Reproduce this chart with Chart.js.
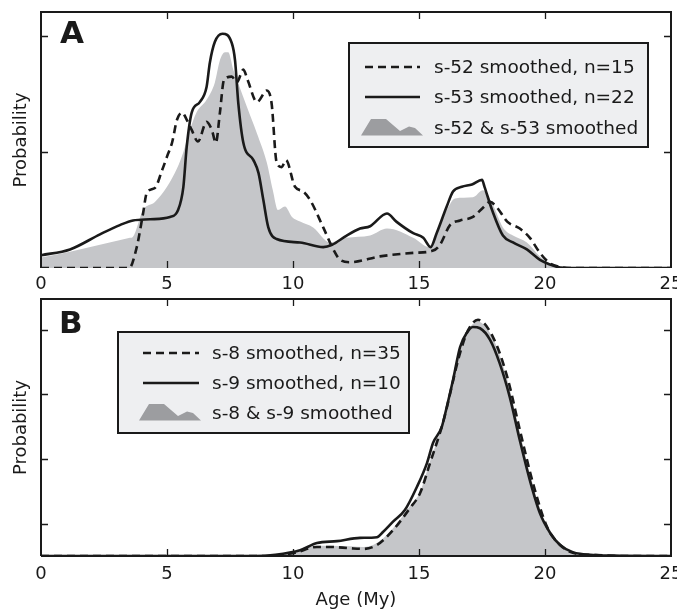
<!DOCTYPE html>
<html><head><meta charset="utf-8">
<script src="https://cdn.jsdelivr.net/npm/chart.js@4.4.1/dist/chart.umd.min.js"></script>
<style>
html,body{margin:0;padding:0;background:#fff;}
#wrap{position:relative;width:677px;height:611px;overflow:hidden;background:#fff;}
canvas{position:absolute;left:0;}
#cA{top:0;}
#cB{top:287px;}
</style></head><body>
<div id="wrap"><canvas id="cA" width="677" height="295"></canvas><canvas id="cB" width="677" height="324"></canvas></div>
<script>
// ---------- data ----------
const xTickValues = [0, 5, 10, 15, 20, 25];
const xInnerTicks = [5, 10, 15, 20];
const aYTicks = [0.1, 0.2];
const bYTicks = [0.05, 0.15, 0.25, 0.35];

const aLabels = ['s-52 smoothed, n=15', 's-53 smoothed, n=22', 's-52 & s-53 smoothed'];
const bLabels = ['s-8 smoothed, n=35', 's-9 smoothed, n=10', 's-8 & s-9 smoothed'];

// Panel A : s-52 (dashed)
const a52X = [0,3.5,3.8,4.05,4.2,4.52,4.8,5.0,5.2,5.4,5.6,5.78,5.98,6.23,6.57,6.78,6.94,7.1,7.26,7.57,7.77,8.03,8.2,8.57,8.96,9.15,9.35,9.55,9.72,10.08,10.4,10.67,11.2,11.6,11.87,12.26,13.45,14.77,15.56,15.83,16.23,16.63,17.14,17.54,17.82,18.1,18.5,19.0,19.4,19.8,20.2,20.6,21,25];
const a52Y = [0,0,0.018,0.047,0.065,0.069,0.084,0.096,0.108,0.128,0.134,0.128,0.119,0.109,0.126,0.119,0.108,0.134,0.162,0.165,0.160,0.171,0.162,0.143,0.153,0.142,0.091,0.087,0.093,0.070,0.066,0.059,0.035,0.016,0.007,0.005,0.010,0.013,0.015,0.020,0.037,0.041,0.044,0.052,0.057,0.052,0.040,0.034,0.026,0.013,0.004,0.001,0,0];
// Panel A : s-53 (solid)
const a53X = [0,1.15,2.34,3.13,3.65,4.33,5.12,5.44,5.65,5.78,5.98,6.3,6.57,6.7,6.9,7.2,7.57,7.7,7.83,8.03,8.43,8.63,8.82,9.02,9.35,10.28,11.2,11.55,12.13,12.66,13.06,13.73,14.1,14.77,15.17,15.46,15.7,16.1,16.35,16.7,17.1,17.5,17.6,17.9,18.33,18.73,19.28,19.8,20.2,20.6,21,25];
const a53Y = [0.011,0.016,0.029,0.037,0.041,0.042,0.044,0.050,0.070,0.104,0.134,0.143,0.156,0.177,0.195,0.202,0.194,0.179,0.142,0.108,0.093,0.082,0.059,0.035,0.025,0.022,0.018,0.020,0.028,0.034,0.036,0.047,0.040,0.030,0.026,0.018,0.030,0.053,0.066,0.070,0.072,0.076,0.070,0.050,0.028,0.022,0.016,0.007,0.003,0.0004,0,0];
// Panel A : combined (gray)
const aAllX = [0,1.15,2.34,3.53,3.65,4.05,4.52,5.0,5.4,5.65,5.85,6.17,6.57,6.9,7.1,7.3,7.43,7.63,7.83,8.17,8.57,8.96,9.2,9.4,9.68,9.96,10.28,10.8,11.47,12.13,13.06,13.73,14.77,15.4,16.1,16.43,17.14,17.54,17.94,18.33,18.73,19.28,19.8,20.3,20.8,25];
const aAllY = [0.009,0.014,0.020,0.026,0.027,0.050,0.057,0.070,0.086,0.100,0.115,0.134,0.145,0.160,0.179,0.186,0.186,0.171,0.159,0.139,0.116,0.091,0.067,0.050,0.053,0.044,0.040,0.035,0.022,0.026,0.028,0.034,0.026,0.018,0.050,0.060,0.061,0.067,0.054,0.035,0.028,0.022,0.010,0.003,0,0];

// Panel B : s-8 (dashed)
const b8X = [0,9,10.08,10.95,11.47,12.26,12.8,13.33,13.97,14.64,15.04,15.44,15.95,16.63,16.95,17.34,17.94,18.5,19.0,19.52,20.08,20.6,21.1,22,23,25];
const b8Y = [0,0,0.005,0.014,0.014,0.012,0.011,0.017,0.040,0.074,0.097,0.144,0.206,0.314,0.349,0.365,0.338,0.277,0.195,0.113,0.045,0.017,0.005,0.0015,0,0];
// Panel B : s-9 (solid)
const b9X = [0,8.5,9.3,10.28,10.95,11.75,12.66,13.33,13.57,13.97,14.44,14.92,15.32,15.56,15.9,16.1,16.35,16.63,16.9,17.14,17.42,17.82,18.2,18.6,19.0,19.4,19.8,20.2,20.6,21.1,22,23,25];
const b9Y = [0,0,0.002,0.009,0.020,0.023,0.028,0.029,0.037,0.053,0.071,0.107,0.144,0.175,0.199,0.230,0.272,0.323,0.345,0.354,0.352,0.334,0.298,0.246,0.179,0.117,0.066,0.036,0.017,0.006,0.0015,0.0005,0];
// Panel B : combined (gray)
const bAllX = [0,9,10.08,10.95,11.47,12.26,12.8,13.33,13.97,14.64,15.04,15.44,15.95,16.63,16.95,17.34,17.94,18.5,19.0,19.52,20.08,20.6,21.1,22,23,25];
const bAllY = [0,0,0.006,0.016,0.016,0.015,0.014,0.020,0.043,0.077,0.099,0.147,0.206,0.316,0.349,0.362,0.336,0.273,0.191,0.110,0.044,0.017,0.005,0.001,0,0];

// ---------- styling ----------
const INK = '#1a1a1a';
const GRAY = '#c5c6c9';
const LEG_BG = '#eeeff1';
const ICON = '#9c9da0';
const DASH = [8, 5];

Chart.defaults.font.family = '"DejaVu Sans", sans-serif';
Chart.defaults.font.size = 18;
Chart.defaults.color = INK;

const pts = (xs, ys) => xs.map((x, i) => ({x: x, y: ys[i]}));

const framePlugin = {
  id: 'frame',
  afterDraw(chart, args, o) {
    const {ctx, chartArea: a, scales} = chart;
    const xs = scales.x, ys = scales.y;
    ctx.save();
    // frame
    ctx.strokeStyle = INK; ctx.lineWidth = 2; ctx.setLineDash([]);
    ctx.beginPath();
    ctx.moveTo(a.left, a.bottom); ctx.lineTo(a.left, a.top); ctx.lineTo(a.right, a.top); ctx.lineTo(a.right, a.bottom);
    if (o.bottom) ctx.lineTo(a.left, a.bottom);
    ctx.stroke();
    // inward ticks
    ctx.lineWidth = 1.3;
    ctx.beginPath();
    const TL = 7;
    for (const v of o.xTicks) {
      const px = Math.round(xs.getPixelForValue(v)) + 0.5;
      ctx.moveTo(px, a.top); ctx.lineTo(px, a.top + TL);
      ctx.moveTo(px, a.bottom); ctx.lineTo(px, a.bottom - TL);
    }
    for (const v of o.yTicks) {
      const py = Math.round(ys.getPixelForValue(v)) + 0.5;
      ctx.moveTo(a.left, py); ctx.lineTo(a.left + TL, py);
      ctx.moveTo(a.right, py); ctx.lineTo(a.right - TL, py);
    }
    ctx.stroke();
    // panel letter
    ctx.fillStyle = INK;
    ctx.font = 'bold 31px "DejaVu Sans", sans-serif';
    ctx.textBaseline = 'alphabetic'; ctx.textAlign = 'left';
    ctx.fillText(o.letter, a.left + o.letterDx, a.top + o.letterDy);
    // legend
    const L = o.legend;
    const lx = a.left + L.dx, ly = a.top + L.dy;
    ctx.fillStyle = LEG_BG; ctx.fillRect(lx, ly, L.w, L.h);
    ctx.lineWidth = 2; ctx.strokeStyle = INK; ctx.strokeRect(lx, ly, L.w, L.h);
    const sx = lx + L.sx0, ex = lx + L.sx1;
    ctx.font = L.font;
    ctx.textBaseline = 'middle';
    L.labels.forEach((t, i) => {
      const yc = ly + L.rows[i];
      if (i < 2) {
        ctx.strokeStyle = INK; ctx.lineWidth = 2.6;
        ctx.setLineDash(i === 0 ? DASH : []);
        ctx.beginPath(); ctx.moveTo(sx, yc); ctx.lineTo(ex, yc); ctx.stroke();
        ctx.setLineDash([]);
      } else {
        ctx.fillStyle = ICON;
        ctx.beginPath();
        ctx.moveTo(sx - 4, yc + 7.5);
        ctx.lineTo(sx + 6, yc - 9);
        ctx.lineTo(sx + 21, yc - 9);
        ctx.lineTo(sx + 35, yc + 3);
        ctx.lineTo(sx + 44, yc - 1.5);
        ctx.lineTo(sx + 50, yc);
        ctx.lineTo(sx + 58, yc + 7.5);
        ctx.closePath(); ctx.fill();
      }
      ctx.fillStyle = INK;
      ctx.fillText(t, lx + L.tx, yc + 1);
    });
    ctx.restore();
  }
};

function makeChart(id, cfg) {
  return new Chart(document.getElementById(id), {
    type: 'line',
    data: {
      datasets: [
        {label: cfg.labels[0], data: pts(cfg.dX, cfg.dY), borderColor: INK, borderWidth: 2.6, borderDash: DASH,
         pointRadius: 0, fill: false, cubicInterpolationMode: 'monotone'},
        {label: cfg.labels[1], data: pts(cfg.sX, cfg.sY), borderColor: INK, borderWidth: 2.6,
         pointRadius: 0, fill: false, cubicInterpolationMode: 'monotone'},
        {label: cfg.labels[2], data: pts(cfg.gX, cfg.gY), borderColor: 'rgba(0,0,0,0)', borderWidth: 0,
         backgroundColor: GRAY, pointRadius: 0, fill: 'origin', cubicInterpolationMode: 'monotone'}
      ]
    },
    options: {
      responsive: false, animation: false, devicePixelRatio: 1,
      layout: {padding: {left: 0, top: 12, right: 6, bottom: 0}},
      plugins: {
        legend: {display: false}, tooltip: {enabled: false},
        frame: cfg.frame
      },
      scales: {
        x: {
          type: 'linear', min: 0, max: 25,
          grid: {display: false, drawTicks: false}, border: {display: false},
          afterBuildTicks: s => { s.ticks = xTickValues.map(v => ({value: v})); },
          ticks: {padding: cfg.tickPad, maxRotation: 0, autoSkip: false, color: INK, font: {size: 18}},
          title: {display: !!cfg.xTitle, text: cfg.xTitle || '', color: INK, font: {size: 18}, padding: {top: 0, bottom: 0}},
          afterFit: s => { s.height = cfg.xH; s.paddingLeft = 0; s.paddingRight = 0; }
        },
        y: {
          type: 'linear', min: 0, max: cfg.yMax,
          grid: {display: false, drawTicks: false}, border: {display: false},
          ticks: {display: false},
          title: {display: true, text: 'Probability', color: INK, font: {size: 18}, padding: {top: 11, bottom: 0}},
          afterFit: s => { s.width = 41; s.paddingTop = 0; s.paddingBottom = 0; }
        }
      }
    },
    plugins: [framePlugin]
  });
}

makeChart('cA', {
  labels: aLabels, dX: a52X, dY: a52Y, sX: a53X, sY: a53Y, gX: aAllX, gY: aAllY,
  yMax: 0.2207, xH: 27, tickPad: 6, xTitle: null,
  frame: {bottom: false, xTicks: xInnerTicks, yTicks: aYTicks, letter: 'A', letterDx: 19, letterDy: 31,
    legend: {dx: 308, dy: 31, w: 299, h: 104, rows: [24, 54, 85], sx0: 16, sx1: 71, tx: 85,
      font: '18.5px "DejaVu Sans", sans-serif', labels: aLabels}}
});

makeChart('cB', {
  labels: bLabels, dX: b8X, dY: b8Y, sX: b9X, sY: b9Y, gX: bAllX, gY: bAllY,
  yMax: 0.3972, xH: 55, tickPad: 8, xTitle: 'Age (My)',
  frame: {bottom: true, xTicks: xInnerTicks, yTicks: bYTicks, letter: 'B', letterDx: 18, letterDy: 34,
    legend: {dx: 77, dy: 33, w: 291, h: 101, rows: [21, 51, 81], sx0: 25, sx1: 81, tx: 94,
      font: '18.5px "DejaVu Sans", sans-serif', labels: bLabels}}
});
</script>
</body></html>
